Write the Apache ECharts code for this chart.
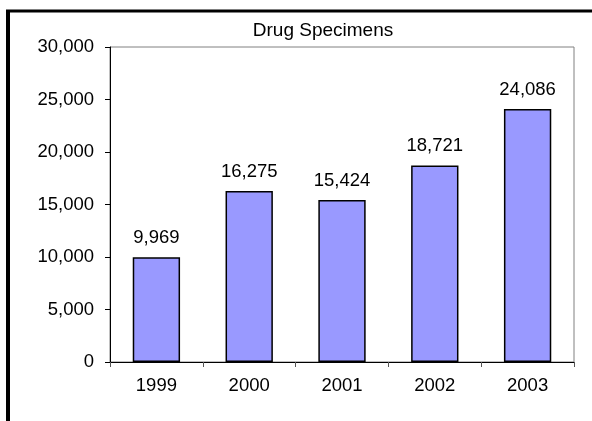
<!DOCTYPE html>
<html>
<head>
<meta charset="utf-8">
<script src="https://cdn.jsdelivr.net/npm/echarts@6/dist/echarts.min.js"></script>
<style>
  html, body { margin: 0; padding: 0; background: #fff; }
  #chart { width: 592px; height: 421px; }
</style>
</head>
<body>
<div id="chart"></div>
<script>
// 数据
var years = ['1999', '2000', '2001', '2002', '2003'];
var specimens = [9969, 16275, 15424, 18721, 24086];
var titleText = 'Drug Specimens';

var font = '"Liberation Sans", Arial, sans-serif';
var myChart = echarts.init(document.getElementById('chart'));
myChart.setOption({
  animation: false,
  title: {
    text: titleText,
    left: 318,
    top: 16,
    textAlign: 'center',
    textStyle: { fontFamily: font, fontSize: 19, fontWeight: 'normal', color: '#000' }
  },
  grid: { left: 110, right: 18, top: 47, bottom: 59, show: true, borderColor: '#808080', borderWidth: 1 },
  xAxis: {
    type: 'category',
    data: years,
    axisLine: { lineStyle: { color: '#000', width: 1 } },
    axisTick: { show: true, length: 5, lineStyle: { color: '#555' } },
    axisLabel: { margin: 14, fontFamily: font, fontSize: 18.5, color: '#000' }
  },
  yAxis: {
    type: 'value',
    min: 0,
    max: 30000,
    interval: 5000,
    axisLine: { show: true, lineStyle: { color: '#000', width: 1 } },
    axisTick: { show: true, length: 5, lineStyle: { color: '#000' } },
    splitLine: { show: false },
    axisLabel: {
      margin: 16,
      fontFamily: font,
      fontSize: 18.5,
      color: '#000',
      formatter: function (v) { return v.toLocaleString('en-US'); }
    }
  },
  series: [{
    type: 'bar',
    data: specimens,
    barWidth: '51%',
    itemStyle: { color: '#9999FF', borderColor: '#000', borderWidth: 1.5 },
    label: {
      show: true,
      position: 'top',
      distance: 10,
      fontFamily: font,
      fontSize: 18.5,
      color: '#000',
      formatter: function (p) { return p.value.toLocaleString('en-US'); }
    }
  }],
  graphic: [
    { type: 'line', shape: { x1: 8, y1: 10, x2: 8, y2: 421 }, style: { stroke: '#000', lineWidth: 4 } },
    { type: 'line', shape: { x1: 6, y1: 11, x2: 592, y2: 11 }, style: { stroke: '#000', lineWidth: 3 } }
  ]
});
</script>
</body>
</html>
